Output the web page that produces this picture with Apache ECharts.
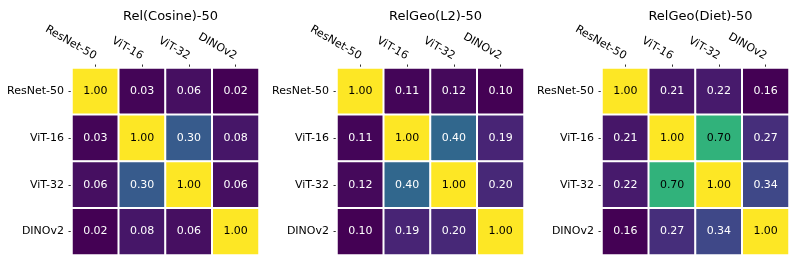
<!DOCTYPE html>
<html>
<head>
<meta charset="utf-8">
<script src="https://cdn.jsdelivr.net/npm/echarts@6/dist/echarts.min.js"></script>
<style>
html,body{margin:0;padding:0;background:#fff;}
#c{width:797px;height:263px;}
</style>
</head>
<body>
<div id="c"></div>
<script>
const models = ['ResNet-50', 'ViT-16', 'ViT-32', 'DINOv2'];
const titles = ['Rel(Cosine)-50', 'RelGeo(L2)-50', 'RelGeo(Diet)-50'];
const cosine = [
  [1.00, 0.03, 0.06, 0.02],
  [0.03, 1.00, 0.30, 0.08],
  [0.06, 0.30, 1.00, 0.06],
  [0.02, 0.08, 0.06, 1.00]
];
const l2 = [
  [1.00, 0.11, 0.12, 0.10],
  [0.11, 1.00, 0.40, 0.19],
  [0.12, 0.40, 1.00, 0.20],
  [0.10, 0.19, 0.20, 1.00]
];
const diet = [
  [1.00, 0.21, 0.22, 0.16],
  [0.21, 1.00, 0.70, 0.27],
  [0.22, 0.70, 1.00, 0.34],
  [0.16, 0.27, 0.34, 1.00]
];
const matrices = [cosine, l2, diet];

const viridis = ['#440154','#482475','#414487','#355f8d','#2a788e','#21918c','#22a884','#44bf70','#7ad151','#bddf26','#fde725'];
const FONT = 'DejaVu Sans';
const gridLefts = [72, 337, 602];
const gridTop = 68, gridSize = 187;

const option = {
  animation: false,
  backgroundColor: '#fff',
  title: [], grid: [], xAxis: [], yAxis: [], visualMap: [], series: []
};

matrices.forEach((m, k) => {
  let mn = Infinity, mx = -Infinity;
  m.forEach(r => r.forEach(v => { mn = Math.min(mn, v); mx = Math.max(mx, v); }));
  const data = [];
  m.forEach((row, i) => row.forEach((v, j) => {
    const t = (v - mn) / (mx - mn);
    data.push({ value: [j, i, v], label: { color: t > 0.5 ? '#000' : '#fff' } });
  }));
  option.title.push({
    text: titles[k], left: gridLefts[k] + gridSize / 2, top: 5, textAlign: 'center',
    textStyle: { fontFamily: FONT, fontSize: 13, fontWeight: 'normal', color: '#000' }
  });
  option.grid.push({ left: gridLefts[k], top: gridTop, width: gridSize, height: gridSize });
  option.xAxis.push({
    type: 'category', data: models, gridIndex: k, position: 'top',
    axisLine: { show: false },
    axisTick: { show: true, alignWithLabel: true, length: 3.5, lineStyle: { color: '#333' } },
    axisLabel: { rotate: 30, fontFamily: FONT, fontSize: 11, color: '#000', margin: 11 },
    splitLine: { show: false }
  });
  option.yAxis.push({
    type: 'category', data: models, gridIndex: k, inverse: true,
    axisLine: { show: false },
    axisTick: { show: true, alignWithLabel: true, length: 3.5, lineStyle: { color: '#333' } },
    axisLabel: { fontFamily: FONT, fontSize: 11, color: '#000', margin: 8 },
    splitLine: { show: false }
  });
  option.visualMap.push({
    show: false, seriesIndex: k, min: mn, max: mx, dimension: 2,
    inRange: { color: viridis }
  });
  option.series.push({
    type: 'heatmap', xAxisIndex: k, yAxisIndex: k, data: data,
    itemStyle: { borderColor: '#fff', borderWidth: 2 },
    label: { show: true, fontFamily: FONT, fontSize: 11, formatter: p => p.value[2].toFixed(2) },
    emphasis: { disabled: true }
  });
});

const chart = echarts.init(document.getElementById('c'), null, { renderer: 'canvas' });
chart.setOption(option);
</script>
</body>
</html>
